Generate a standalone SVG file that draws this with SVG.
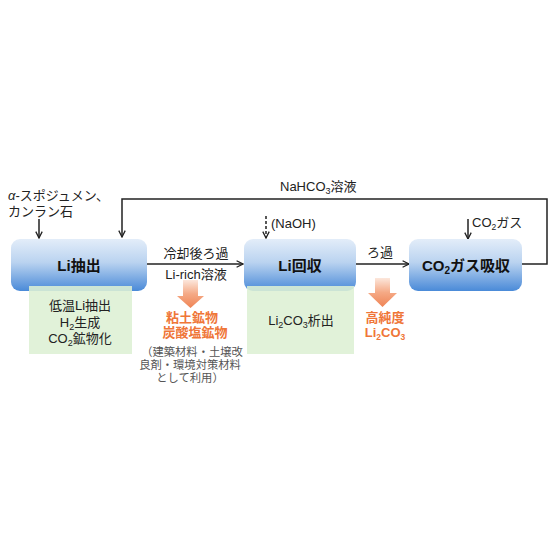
<svg xmlns="http://www.w3.org/2000/svg" width="560" height="560" viewBox="0 0 560 560">
<defs>
<linearGradient id="blue" x1="0" y1="0" x2="0" y2="1">
<stop offset="0" stop-color="#e3edf9"/>
<stop offset="0.45" stop-color="#bad3f0"/>
<stop offset="1" stop-color="#4a8ad8"/>
</linearGradient>
<linearGradient id="orange" x1="0" y1="0" x2="0" y2="1">
<stop offset="0" stop-color="#fce7dc"/>
<stop offset="0.5" stop-color="#f5a985"/>
<stop offset="1" stop-color="#ef8455"/>
</linearGradient>
<marker id="ah" viewBox="0 0 10 10" refX="9" refY="5" markerWidth="8" markerHeight="8" markerUnits="userSpaceOnUse" orient="auto">
<polyline points="1,1 9,5 1,9" fill="none" stroke="#222" stroke-width="1.6"/>
</marker>
</defs>
<style>
text{font-family:"Liberation Sans","Noto Sans CJK JP",sans-serif;fill:#222;}
.t{font-size:13px;}
.b{font-size:15px;font-weight:bold;fill:#111;}
.o{font-size:13px;font-weight:bold;fill:#ef7638;}
.g{font-size:11.3px;fill:#555;}
.box{fill:url(#blue);}
.green{fill:#ddf0d4;opacity:0.88;}
.c{fill:none;stroke:#222;stroke-width:1.5;}
.fat{fill:url(#orange);}
</style>
<rect width="560" height="560" fill="#fff"/>

<g id="connectors">
<line class="c" x1="39" y1="219" x2="39" y2="238" marker-end="url(#ah)"/>
<polyline class="c" points="522,264 547,264 547,199 122,199 122,237" marker-end="url(#ah)"/>
<line class="c" x1="147" y1="264" x2="243" y2="264" marker-end="url(#ah)"/>
<line class="c" x1="356" y1="264" x2="409" y2="264" marker-end="url(#ah)"/>
<line class="c" x1="266" y1="216" x2="266" y2="238" stroke-dasharray="3,2" marker-end="url(#ah)"/>
<line class="c" x1="468" y1="219" x2="468" y2="239" marker-end="url(#ah)"/>
<polygon class="fat" points="183,280 198,280 198,296 204,296 190.5,308 177,296 183,296"/>
<polygon class="fat" points="375,278 390,278 390,293 397,293 382.5,307 368,293 375,293"/>
</g>

<g id="input-label">
<text class="t" x="8" y="200"><tspan font-style="italic">α</tspan>-スポジュメン、</text>
<text class="t" x="8" y="216">カンラン石</text>
</g>
<g id="nahco3-label">
<text class="t" x="280" y="191" font-size="14">NaHCO<tspan font-size="9" dy="3">3</tspan><tspan dy="-3">溶液</tspan></text>
</g>

<g id="li-extract">
<rect class="box" x="11" y="239" width="136" height="52" rx="9"/>
<rect class="green" x="29" y="286" width="103" height="68"/>
<text class="b" x="79" y="271" text-anchor="middle">Li抽出</text>
<text class="t" x="80" y="310" text-anchor="middle">低温Li抽出</text>
<text class="t" x="80" y="327" text-anchor="middle">H<tspan font-size="9" dy="3">2</tspan><tspan dy="-3">生成</tspan></text>
<text class="t" x="80" y="343" text-anchor="middle">CO<tspan font-size="9" dy="3">2</tspan><tspan dy="-3">鉱物化</tspan></text>
</g>

<g id="arrow1-labels">
<text class="t" x="196" y="258" text-anchor="middle">冷却後ろ過</text>
<text class="t" x="196" y="279" text-anchor="middle">Li-rich溶液</text>
<text class="o" x="192" y="322" text-anchor="middle">粘土鉱物</text>
<text class="o" x="195" y="337" text-anchor="middle">炭酸塩鉱物</text>
<text class="g" x="192" y="356" text-anchor="middle">（建築材料・土壌改</text>
<text class="g" x="190" y="369" text-anchor="middle">良剤・環境対策材料</text>
<text class="g" x="190" y="382" text-anchor="middle">として利用）</text>
</g>

<g id="li-recover">
<rect class="box" x="244" y="239" width="112" height="52" rx="9"/>
<rect class="green" x="247" y="286" width="107" height="68"/>
<text class="b" x="300" y="271" text-anchor="middle">Li回収</text>
<text class="t" x="301" y="325" text-anchor="middle" font-size="13.5">Li<tspan font-size="9" dy="3">2</tspan><tspan dy="-3">CO</tspan><tspan font-size="9" dy="3">3</tspan><tspan dy="-3">析出</tspan></text>
<text class="t" x="271" y="228" font-size="13.5">(NaOH)</text>
</g>

<g id="arrow2-labels">
<text class="t" x="380" y="257" text-anchor="middle">ろ過</text>
<text class="o" x="385" y="322" text-anchor="middle">高純度</text>
<text class="o" x="385" y="337" text-anchor="middle" font-size="12.5">Li<tspan font-size="8.5" dy="3">2</tspan><tspan dy="-3">CO</tspan><tspan font-size="8.5" dy="3">3</tspan></text>
</g>

<g id="co2-absorb">
<rect class="box" x="409" y="239" width="113" height="52" rx="9"/>
<text class="b" x="466" y="271" text-anchor="middle">CO<tspan font-size="10" dy="3">2</tspan><tspan dy="-3">ガス吸収</tspan></text>
<text class="t" x="472" y="227" font-size="12">CO<tspan font-size="8.5" dy="3">2</tspan><tspan dy="-3">ガス</tspan></text>
</g>
</svg>
